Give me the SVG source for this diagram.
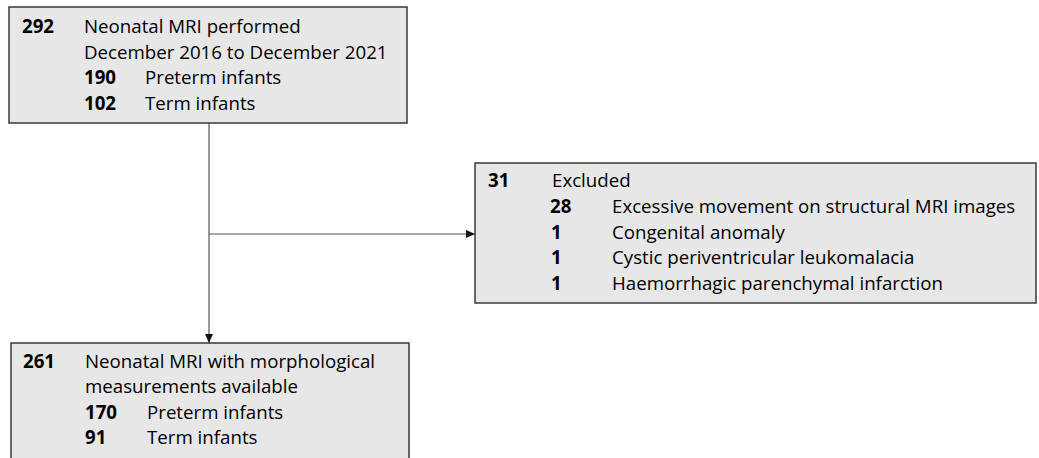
<svg xmlns="http://www.w3.org/2000/svg" width="1039" height="458" viewBox="0 0 1039 458">
<style>
.box{fill:#e7e7e7;stroke:#3a3a3a;stroke-width:1.5}
text{font-family:"Open Sans","Noto Sans","Liberation Sans",sans-serif;font-size:18.7px;fill:#000}
.b{font-weight:bold}
.conn{stroke:#555;stroke-width:1.2;fill:none}
</style>
<defs>
<marker id="ah" markerWidth="9" markerHeight="9" refX="9" refY="4.5" orient="auto" markerUnits="userSpaceOnUse">
<path d="M0,0.5 L9,4.5 L0,8.5 Z" fill="#111"/>
</marker>
</defs>
<rect width="1039" height="458" fill="#ffffff"/>
<g id="connectors">
<path class="conn" d="M209,123 V343" marker-end="url(#ah)"/>
<path class="conn" d="M209,234 H475" marker-end="url(#ah)"/>
</g>
<g id="node-mri-performed">
<rect class="box" x="9" y="7" width="398" height="116"/>
<text class="b" x="22" y="33">292</text>
<text x="84" y="33">Neonatal MRI performed</text>
<text x="84" y="58.5">December 2016 to December 2021</text>
<text class="b" x="84" y="84">190</text>
<text x="145" y="84">Preterm infants</text>
<text class="b" x="84" y="109.5">102</text>
<text x="145" y="109.5">Term infants</text>
</g>
<g id="node-excluded">
<rect class="box" x="475" y="163" width="561" height="140"/>
<text class="b" x="488" y="187">31</text>
<text x="552" y="187">Excluded</text>
<text class="b" x="550" y="213">28</text>
<text x="612" y="213">Excessive movement on structural MRI images</text>
<text class="b" x="551" y="238.5">1</text>
<text x="612" y="238.5">Congenital anomaly</text>
<text class="b" x="551" y="264">1</text>
<text x="612" y="264">Cystic periventricular leukomalacia</text>
<text class="b" x="551" y="289.5">1</text>
<text x="612" y="289.5">Haemorrhagic parenchymal infarction</text>
</g>
<g id="node-mri-available">
<rect class="box" x="11" y="343" width="398" height="120"/>
<text class="b" x="23" y="368">261</text>
<text x="85" y="368">Neonatal MRI with morphological</text>
<text x="85" y="393">measurements available</text>
<text class="b" x="85" y="418.5">170</text>
<text x="147" y="418.5">Preterm infants</text>
<text class="b" x="85" y="444">91</text>
<text x="147" y="444">Term infants</text>
</g>
</svg>
